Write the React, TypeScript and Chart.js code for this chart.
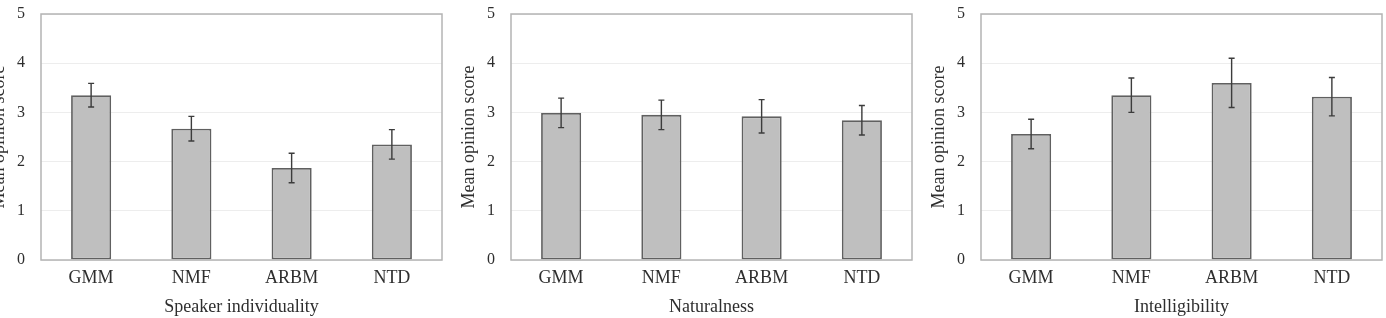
import React, { useEffect, useRef } from "react";
import { Chart, registerables } from "chart.js";

Chart.register(...registerables);

const categories = ["GMM", "NMF", "ARBM", "NTD"];

const individualityMeans = [3.35, 2.67, 1.87, 2.35];
const individualityErrors = [0.24, 0.25, 0.3, 0.3];

const naturalnessMeans = [2.99, 2.95, 2.92, 2.84];
const naturalnessErrors = [0.3, 0.3, 0.34, 0.3];

const intelligibilityMeans = [2.56, 3.35, 3.6, 3.32];
const intelligibilityErrors = [0.3, 0.35, 0.5, 0.39];

const yTickValues = [0, 1, 2, 3, 4, 5];
const yAxisTitle = "Mean opinion score";
const panelTitles = ["Speaker individuality", "Naturalness", "Intelligibility"];

const panels = [
  { title: panelTitles[0], means: individualityMeans, errors: individualityErrors },
  { title: panelTitles[1], means: naturalnessMeans, errors: naturalnessErrors },
  { title: panelTitles[2], means: intelligibilityMeans, errors: intelligibilityErrors },
];

const FONT = "'Liberation Serif', 'Times New Roman', serif";
const TEXT = "#2e2e2e";

const errorBarPlugin = {
  id: "errorBars",
  afterDatasetsDraw(chart: any) {
    const errs: number[] = chart.options.plugins.errorBars.errors;
    const meta = chart.getDatasetMeta(0);
    const ys = chart.scales.y;
    const ctx = chart.ctx;
    const vals = chart.data.datasets[0].data as number[];
    ctx.save();
    ctx.strokeStyle = "#3c3c3c";
    ctx.lineWidth = 1.4;
    meta.data.forEach((bar: any, i: number) => {
      const x = bar.x;
      const top = ys.getPixelForValue(vals[i] + errs[i]);
      const bot = ys.getPixelForValue(vals[i] - errs[i]);
      ctx.beginPath();
      ctx.moveTo(x, top);
      ctx.lineTo(x, bot);
      ctx.moveTo(x - 3, top);
      ctx.lineTo(x + 3, top);
      ctx.moveTo(x - 3, bot);
      ctx.lineTo(x + 3, bot);
      ctx.stroke();
    });
    ctx.restore();
  },
};

const frameplugin = {
  id: "frame",
  afterDraw(chart: any) {
    const { left, right, top, bottom } = chart.chartArea;
    const ctx = chart.ctx;
    ctx.save();
    ctx.strokeStyle = "#b4b4b4";
    ctx.lineWidth = 1.5;
    ctx.strokeRect(left, top, right - left, bottom - top);
    ctx.restore();
  },
};

function Panel({ index }: { index: number }) {
  const ref = useRef<HTMLCanvasElement | null>(null);
  const p = panels[index];
  useEffect(() => {
    if (!ref.current) return;
    const chart = new Chart(ref.current, {
      type: "bar",
      data: {
        labels: categories,
        datasets: [
          {
            data: p.means,
            backgroundColor: "#bfbfbf",
            borderColor: "#606060",
            borderWidth: 1.8,
            borderSkipped: false,
            barPercentage: 0.4,
            categoryPercentage: 1,
          },
        ],
      },
      options: {
        animation: false,
        responsive: false,
        devicePixelRatio: 1,
        layout: { padding: { top: 14, right: 2, bottom: 0, left: 0 } },
        plugins: {
          legend: { display: false },
          tooltip: { enabled: false },
          errorBars: { errors: p.errors },
        } as any,
        scales: {
          x: {
            grid: { display: false, drawTicks: false },
            border: { display: false },
            ticks: { color: TEXT, font: { family: FONT, size: 18, lineHeight: 1.2 }, padding: 7 },
            title: {
              display: true,
              text: p.title,
              color: TEXT,
              font: { family: FONT, size: 18, lineHeight: 1.2 },
              padding: 0,
            },
            afterFit(scale: any) {
              scale.height = 58;
              scale.paddingLeft = 0;
              scale.paddingRight = 0;
            },
          },
          y: {
            min: 0,
            max: 5,
            grid: { color: "#ededed", drawTicks: false, lineWidth: 1 },
            border: { display: false },
            afterBuildTicks(scale: any) {
              scale.ticks = yTickValues.map((v) => ({ value: v }));
            },
            ticks: { color: TEXT, font: { family: FONT, size: 16 }, padding: 16 },
            title: {
              display: true,
              text: yAxisTitle,
              color: TEXT,
              font: { family: FONT, size: 18, lineHeight: 1.2 },
              padding: { top: 16, bottom: 0 },
            },
            afterFit(scale: any) {
              scale.width = 69;
              scale.paddingTop = 0;
              scale.paddingBottom = 0;
            },
          },
        },
      },
      plugins: [errorBarPlugin, frameplugin],
    });
    return () => chart.destroy();
  }, []);
  return (
    <canvas
      ref={ref}
      width={472}
      height={318}
      style={{ position: "absolute", left: 470 * index - 28, top: 0, width: 472, height: 318 }}
    />
  );
}

export default function App() {
  return (
    <div
      style={{
        position: "fixed",
        left: 0,
        top: 0,
        width: 1386,
        height: 318,
        overflow: "hidden",
        background: "#fff",
      }}
    >
      {panels.map((_, i) => (
        <Panel key={i} index={i} />
      ))}
    </div>
  );
}
